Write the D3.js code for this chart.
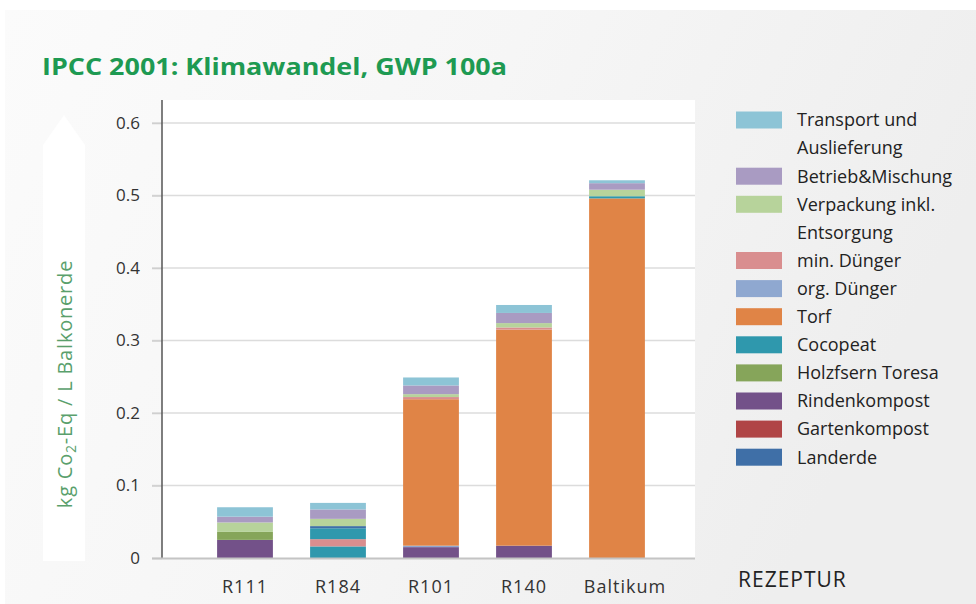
<!DOCTYPE html>
<html><head><meta charset="utf-8">
<script src="https://cdn.jsdelivr.net/npm/d3@7"></script>
<style>body{margin:0;background:#fff;}svg{display:block;}</style>
</head><body>
<svg id="c" width="976" height="604"></svg>
<script>
const categories = ["R111", "R184", "R101", "R140", "Baltikum"];
const seriesNames = ["Transport und Auslieferung", "Betrieb&Mischung", "Verpackung inkl. Entsorgung", "min. Dünger", "org. Dünger", "Torf", "Cocopeat", "Holzfsern Toresa", "Rindenkompost", "Gartenkompost", "Landerde"];
const legendLines = [["Transport und", "Auslieferung"], ["Betrieb&Mischung"], ["Verpackung inkl.", "Entsorgung"], ["min. Dünger"], ["org. Dünger"], ["Torf"], ["Cocopeat"], ["Holzfsern Toresa"], ["Rindenkompost"], ["Gartenkompost"], ["Landerde"]];
const seriesColors = ["#8dc4d6", "#a99bc2", "#b7d39b", "#d98e8f", "#8fa8d0", "#e08446", "#2f98ad", "#86a55a", "#735189", "#b04546", "#3f6fa7"];
const yTicks = [0, 0.1, 0.2, 0.3, 0.4, 0.5, 0.6];
// per-bar segments, bottom to top: [series, value]
const segR111 = [["Rindenkompost", 0.025], ["Holzfsern Toresa", 0.011], ["Verpackung inkl. Entsorgung", 0.013], ["Betrieb&Mischung", 0.008], ["Transport und Auslieferung", 0.013]];
const segR184 = [["Cocopeat", 0.016], ["min. Dünger", 0.010], ["Cocopeat", 0.015], ["Landerde", 0.003], ["Verpackung inkl. Entsorgung", 0.010], ["Betrieb&Mischung", 0.013], ["Transport und Auslieferung", 0.009]];
const segR101 = [["Rindenkompost", 0.015], ["org. Dünger", 0.002], ["Torf", 0.202], ["min. Dünger", 0.003], ["Verpackung inkl. Entsorgung", 0.004], ["Betrieb&Mischung", 0.012], ["Transport und Auslieferung", 0.011]];
const segR140 = [["Rindenkompost", 0.017], ["Torf", 0.298], ["min. Dünger", 0.003], ["Verpackung inkl. Entsorgung", 0.006], ["Betrieb&Mischung", 0.014], ["Transport und Auslieferung", 0.011]];
const segBaltikum = [["Torf", 0.496], ["Cocopeat", 0.003], ["Verpackung inkl. Entsorgung", 0.009], ["Betrieb&Mischung", 0.009], ["Transport und Auslieferung", 0.004]];
const barSegments = [segR111, segR184, segR101, segR140, segBaltikum];

const svg = d3.select("#c");
const defs = svg.append("defs");
const g1 = defs.append("linearGradient").attr("id", "bg").attr("x1", "0").attr("y1", "0").attr("x2", "1").attr("y2", "0.3");
g1.append("stop").attr("offset", "0").attr("stop-color", "#fbfbfb");
g1.append("stop").attr("offset", "0.5").attr("stop-color", "#f6f6f6");
g1.append("stop").attr("offset", "1").attr("stop-color", "#eeeeee");

svg.append("rect").attr("x", 5).attr("y", 10).attr("width", 971).attr("height", 594).attr("fill", "url(#bg)");

const color = d3.scaleOrdinal().domain(seriesNames).range(seriesColors);
const y = d3.scaleLinear().domain([0, 0.6]).range([558, 123]);
const x = d3.scaleBand().domain(categories).range([198.5, 663.5]).paddingInner(0.4).paddingOuter(0.2);

// plot area
svg.append("rect").attr("x", 162).attr("y", 100).attr("width", 533).attr("height", 458).attr("fill", "#ffffff");

// title
svg.append("text").attr("x", 42).attr("y", 75).text("IPCC 2001: Klimawandel, GWP 100a")
  .attr("font-family", "Open Sans").attr("font-weight", "bold").attr("font-size", 24)
  .attr("fill", "#1e9a52").attr("textLength", 465).attr("lengthAdjust", "spacingAndGlyphs");

// y arrow
svg.append("path").attr("d", "M43,145 L64,115 L85,145 L85,561 L43,561 Z").attr("fill", "#ffffff");
svg.append("text").attr("transform", "translate(72,384) rotate(-90)").attr("text-anchor", "middle")
  .attr("font-family", "Open Sans").attr("font-size", 20).attr("letter-spacing", 0.8).attr("fill", "#5a9f6c")
  .call(t => {
    t.append("tspan").text("kg Co");
    t.append("tspan").text("2").attr("font-size", 14).attr("dy", 4);
    t.append("tspan").text("-Eq / L Balkonerde").attr("dy", -4);
  });

// gridlines
svg.append("g").selectAll("line").data(yTicks.filter(d => d > 0)).join("line")
  .attr("x1", 152).attr("x2", 695).attr("y1", d => y(d)).attr("y2", d => y(d))
  .attr("stroke", "#dcdcdc").attr("stroke-width", 1.5);

// y axis
const yAxis = d3.axisLeft(y).tickValues(yTicks).tickFormat(d => d === 0 ? "0" : d3.format(".1f")(d)).tickSize(10).tickPadding(12);
const ya = svg.append("g").attr("transform", "translate(162,0)").call(yAxis);
ya.select(".domain").remove();
ya.selectAll(".tick line").attr("stroke", "#cfcfcf").attr("stroke-width", 1.5);
ya.selectAll(".tick text").attr("font-family", "Open Sans").attr("font-size", 17).attr("fill", "#333");
svg.append("line").attr("x1", 162).attr("x2", 162).attr("y1", 100).attr("y2", 558).attr("stroke", "#555").attr("stroke-width", 1.5);

// bars
const bars = svg.append("g");
barSegments.forEach((segs, i) => {
  let acc = 0;
  const rows = segs.map(([k, v]) => { const r = {k, y0: acc, y1: acc + v}; acc += v; return r; });
  bars.selectAll(null).data(rows).join("rect")
    .attr("x", x(categories[i])).attr("width", x.bandwidth())
    .attr("y", d => y(d.y1)).attr("height", d => y(d.y0) - y(d.y1))
    .attr("fill", d => color(d.k));
});

// x axis baseline
svg.append("line").attr("x1", 152).attr("x2", 695).attr("y1", 558.5).attr("y2", 558.5).attr("stroke", "#c4c4c4").attr("stroke-width", 2);
const xa = svg.append("g").attr("transform", "translate(0,558)").call(d3.axisBottom(x).tickSize(0).tickPadding(22));
xa.select(".domain").remove();
xa.selectAll(".tick text").attr("font-family", "Open Sans").attr("font-size", 18).attr("letter-spacing", 1).attr("fill", "#333");
xa.selectAll(".tick").filter(d => d === "Baltikum").select("text").attr("dx", 8);

svg.append("text").attr("x", 738).attr("y", 587).text("REZEPTUR").attr("font-family", "Open Sans")
  .attr("font-size", 21).attr("letter-spacing", 1).attr("fill", "#222");

// legend
const lg = svg.append("g");
let row = 0;
seriesNames.forEach((s, i) => {
  const cy = 120 + row * 28.1;
  lg.append("rect").attr("x", 736).attr("y", cy - 8.5).attr("width", 46).attr("height", 17).attr("fill", seriesColors[i]);
  legendLines[i].forEach((ln, j) => {
    lg.append("text").attr("x", 797).attr("y", cy + j * 28.1).attr("dy", "0.35em").text(ln)
      .attr("font-family", "Open Sans").attr("font-size", 18).attr("fill", "#222");
  });
  row += legendLines[i].length;
});
</script>
</body></html>
